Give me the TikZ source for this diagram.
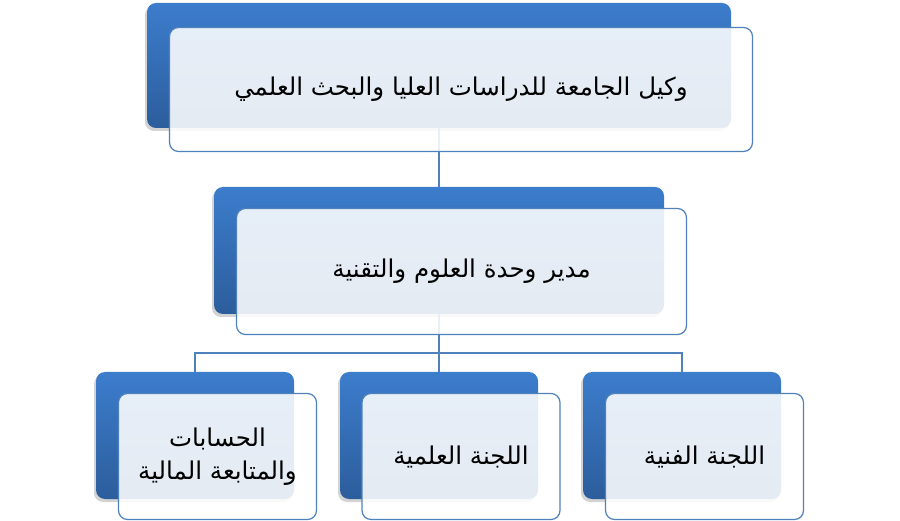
\documentclass[tikz,border=0pt]{standalone}
\usepackage{fontspec}
\newfontfamily\arabicfont[Script=Arabic]{DejaVu Sans}
\TeXXeTstate=1
\usetikzlibrary{shadows}
\definecolor{boxblue}{HTML}{3C7DCC}
\definecolor{boxdark}{HTML}{2C5D9C}
\definecolor{edgeblue}{HTML}{4F81BD}
\begin{document}
\begin{tikzpicture}[x=1pt,y=-1pt,font=\arabicfont\fontsize{24.5}{33}\selectfont,
	backbox/.style={rectangle,rounded corners=9pt,inner sep=0pt,top color=boxblue,bottom color=boxdark,
		drop shadow={shadow xshift=-2pt,shadow yshift=-3pt,opacity=0.35}},
	frontbox/.style={rectangle,rounded corners=9pt,inner sep=0pt,draw=edgeblue,line width=1.2pt,
		fill=white,fill opacity=0.88,text opacity=1,align=center},
	link/.style={draw=edgeblue,line width=1.1pt}]
	\useasboundingbox (0,0) rectangle (900,521);
	% blue backing boxes
	\node[backbox,minimum width=584pt,minimum height=125pt] (vpb) at (439,65.5) {};
	\node[backbox,minimum width=450pt,minimum height=127pt] (dirb) at (439,250.5) {};
	\node[backbox,minimum width=198pt,minimum height=127pt] (finb) at (195,435.5) {};
	\node[backbox,minimum width=198pt,minimum height=127pt] (scib) at (439,435.5) {};
	\node[backbox,minimum width=198pt,minimum height=127pt] (tecb) at (682,435.5) {};
	% connectors
	\coordinate (split) at (439,353);
	\draw[link] (vpb.south)--(dirb.north);
	\draw[link] (dirb.south)--(split);
	\draw[link] (finb.north)|-(split)-|(tecb.north);
	\draw[link] (split)--(scib.north);
	% front boxes
	\node[frontbox,minimum width=583pt,minimum height=124pt] (vp) at (461,89.5)
		{\beginR وكيل الجامعة للدراسات العليا والبحث العلمي\endR};
	\node[frontbox,minimum width=450pt,minimum height=126pt] (dir) at (461.5,271.5)
		{\beginR مدير وحدة العلوم والتقنية\endR};
	\node[frontbox,minimum width=198pt,minimum height=126pt] (fin) at (217.5,456.5)
		{\beginR الحسابات\endR\\\beginR والمتابعة المالية\endR};
	\node[frontbox,minimum width=198pt,minimum height=126pt] (sci) at (461,456.5)
		{\beginR اللجنة العلمية\endR};
	\node[frontbox,minimum width=198pt,minimum height=126pt] (tec) at (704.5,456.5)
		{\beginR اللجنة الفنية\endR};
\end{tikzpicture}
\end{document}
